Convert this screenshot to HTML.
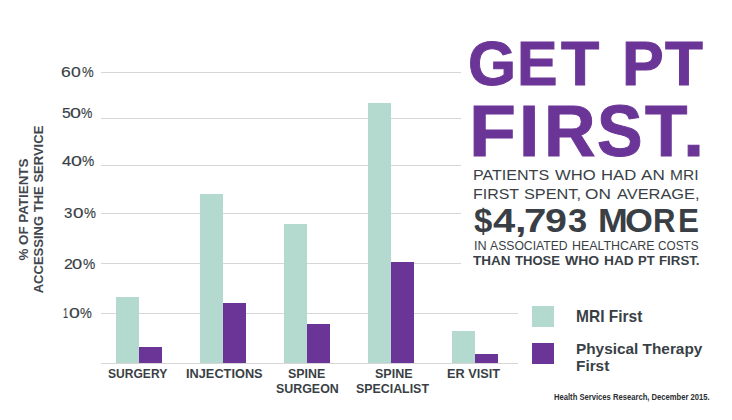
<!DOCTYPE html>
<html><head><meta charset="utf-8"><style>
html,body{margin:0;padding:0;background:#fff;width:732px;height:420px;overflow:hidden;position:relative}
.t{position:absolute;white-space:pre;line-height:1;font-family:"Liberation Sans",sans-serif;transform-origin:0 0}
.r{position:absolute}
</style></head><body>
<div class="r" style="left:101px;top:72px;width:360px;height:1px;background:#d6d6d6;"></div>
<div class="r" style="left:101px;top:118px;width:360px;height:1px;background:#d6d6d6;"></div>
<div class="r" style="left:101px;top:165px;width:360px;height:1px;background:#d6d6d6;"></div>
<div class="r" style="left:101px;top:213px;width:360px;height:1px;background:#d6d6d6;"></div>
<div class="r" style="left:101px;top:263px;width:360px;height:1px;background:#d6d6d6;"></div>
<div class="r" style="left:101px;top:313px;width:417px;height:1px;background:#d6d6d6;"></div>
<div class="r" style="left:101px;top:363px;width:417px;height:1px;background:#d6d6d6;"></div>
<div class="r" style="left:116px;top:297px;width:23px;height:66px;background:#b4dad0;"></div>
<div class="r" style="left:139px;top:347px;width:23px;height:16px;background:#6b3597;"></div>
<div class="r" style="left:200px;top:194px;width:23px;height:169px;background:#b4dad0;"></div>
<div class="r" style="left:223px;top:303px;width:23px;height:60px;background:#6b3597;"></div>
<div class="r" style="left:284px;top:224px;width:23px;height:139px;background:#b4dad0;"></div>
<div class="r" style="left:307px;top:324px;width:23px;height:39px;background:#6b3597;"></div>
<div class="r" style="left:368px;top:103px;width:23px;height:260px;background:#b4dad0;"></div>
<div class="r" style="left:391px;top:262px;width:23px;height:101px;background:#6b3597;"></div>
<div class="r" style="left:452px;top:331px;width:23px;height:32px;background:#b4dad0;"></div>
<div class="r" style="left:475px;top:354px;width:23px;height:9px;background:#6b3597;"></div>
<div class="t" style="left:61.00px;top:65px;font-size:14.28px;font-weight:400;color:#3a3f46;transform:scaleX(1.2255);-webkit-text-stroke:0.15px #3a3f46;">6</div>
<div class="t" style="left:71.17px;top:65px;font-size:14.28px;font-weight:400;color:#3a3f46;transform:scaleX(1.2328);-webkit-text-stroke:0.15px #3a3f46;">0</div>
<div class="t" style="left:81.65px;top:65px;font-size:14.28px;font-weight:400;color:#3a3f46;transform:scaleX(0.9207);-webkit-text-stroke:0.15px #3a3f46;">%</div>
<div class="t" style="left:61.55px;top:106px;font-size:14.28px;font-weight:400;color:#3a3f46;transform:scaleX(1.0951);-webkit-text-stroke:0.15px #3a3f46;">5</div>
<div class="t" style="left:70.39px;top:106px;font-size:14.28px;font-weight:400;color:#3a3f46;transform:scaleX(1.3787);-webkit-text-stroke:0.15px #3a3f46;">0</div>
<div class="t" style="left:81.36px;top:106px;font-size:14.28px;font-weight:400;color:#3a3f46;transform:scaleX(0.8948);-webkit-text-stroke:0.15px #3a3f46;">%</div>
<div class="t" style="left:61.54px;top:154px;font-size:14.57px;font-weight:400;color:#3a3f46;transform:scaleX(1.1372);-webkit-text-stroke:0.15px #3a3f46;">4</div>
<div class="t" style="left:70.99px;top:154px;font-size:14.57px;font-weight:400;color:#3a3f46;transform:scaleX(1.3512);-webkit-text-stroke:0.15px #3a3f46;">0</div>
<div class="t" style="left:81.52px;top:154px;font-size:14.57px;font-weight:400;color:#3a3f46;transform:scaleX(0.9448);-webkit-text-stroke:0.15px #3a3f46;">%</div>
<div class="t" style="left:64.38px;top:206px;font-size:14.13px;font-weight:400;color:#3a3f46;transform:scaleX(1.0616);-webkit-text-stroke:0.15px #3a3f46;">3</div>
<div class="t" style="left:73.12px;top:206px;font-size:14.13px;font-weight:400;color:#3a3f46;transform:scaleX(1.3343);-webkit-text-stroke:0.15px #3a3f46;">0</div>
<div class="t" style="left:83.54px;top:206px;font-size:14.13px;font-weight:400;color:#3a3f46;transform:scaleX(0.9480);-webkit-text-stroke:0.15px #3a3f46;">%</div>
<div class="t" style="left:63.88px;top:257px;font-size:14.13px;font-weight:400;color:#3a3f46;transform:scaleX(1.1308);-webkit-text-stroke:0.15px #3a3f46;">2</div>
<div class="t" style="left:72.45px;top:257px;font-size:14.13px;font-weight:400;color:#3a3f46;transform:scaleX(1.2901);-webkit-text-stroke:0.15px #3a3f46;">0</div>
<div class="t" style="left:83.22px;top:257px;font-size:14.13px;font-weight:400;color:#3a3f46;transform:scaleX(0.9742);-webkit-text-stroke:0.15px #3a3f46;">%</div>
<div class="t" style="left:63.24px;top:306px;font-size:14.28px;font-weight:400;color:#3a3f46;transform:scaleX(0.6433);-webkit-text-stroke:0.15px #3a3f46;">1</div>
<div class="t" style="left:69.00px;top:306px;font-size:14.28px;font-weight:400;color:#3a3f46;transform:scaleX(1.3641);-webkit-text-stroke:0.15px #3a3f46;">0</div>
<div class="t" style="left:79.84px;top:306px;font-size:14.28px;font-weight:400;color:#3a3f46;transform:scaleX(0.9294);-webkit-text-stroke:0.15px #3a3f46;">%</div>
<div class="t" style="left:0;top:0;font-size:12.03px;font-weight:700;color:#42474e;transform:translate(18.14px,260.60px) rotate(-90deg) scaleX(1.1128);">% OF PATIENTS</div>
<div class="t" style="left:0;top:0;font-size:12.46px;font-weight:700;color:#42474e;transform:translate(33.17px,293.29px) rotate(-90deg) scaleX(1.0455);">ACCESSING THE SERVICE</div>
<div class="t" style="left:107.64px;top:368px;font-size:12.75px;font-weight:700;color:#3a3f46;transform:scaleX(0.9457);">SURGERY</div>
<div class="t" style="left:185.61px;top:368px;font-size:12.75px;font-weight:700;color:#3a3f46;transform:scaleX(1.0014);">INJECTIONS</div>
<div class="t" style="left:288.33px;top:368px;font-size:12.75px;font-weight:700;color:#3a3f46;transform:scaleX(0.9744);">SPINE</div>
<div class="t" style="left:275.53px;top:383px;font-size:12.46px;font-weight:700;color:#3a3f46;transform:scaleX(0.9967);">SURGEON</div>
<div class="t" style="left:374.82px;top:368px;font-size:12.75px;font-weight:700;color:#3a3f46;transform:scaleX(0.9824);">SPINE</div>
<div class="t" style="left:356.23px;top:383px;font-size:12.46px;font-weight:700;color:#3a3f46;transform:scaleX(0.9946);">SPECIALIST</div>
<div class="t" style="left:447.01px;top:368px;font-size:12.75px;font-weight:700;color:#3a3f46;transform:scaleX(0.9972);">ER VISIT</div>
<div class="t" style="left:468.03px;top:32px;font-size:63.33px;font-weight:700;color:#6b3597;transform:scaleX(0.9753);-webkit-text-stroke:1px #6b3597;">G</div>
<div class="t" style="left:517.25px;top:32px;font-size:63.33px;font-weight:700;color:#6b3597;transform:scaleX(0.9587);-webkit-text-stroke:1px #6b3597;">E</div>
<div class="t" style="left:560.87px;top:32px;font-size:63.33px;font-weight:700;color:#6b3597;transform:scaleX(0.9902);-webkit-text-stroke:1px #6b3597;">T</div>
<div class="t" style="left:621.52px;top:32px;font-size:63.33px;font-weight:700;color:#6b3597;transform:scaleX(0.9869);-webkit-text-stroke:1px #6b3597;">P</div>
<div class="t" style="left:665.28px;top:32px;font-size:63.33px;font-weight:700;color:#6b3597;transform:scaleX(0.9795);-webkit-text-stroke:1px #6b3597;">T</div>
<div class="t" style="left:469.12px;top:95px;font-size:72.90px;font-weight:700;color:#6b3597;transform:scaleX(1.0535);-webkit-text-stroke:1px #6b3597;">F</div>
<div class="t" style="left:519.40px;top:95px;font-size:72.90px;font-weight:700;color:#6b3597;transform:scaleX(0.9994);-webkit-text-stroke:1px #6b3597;">I</div>
<div class="t" style="left:543.50px;top:95px;font-size:72.90px;font-weight:700;color:#6b3597;transform:scaleX(0.9798);-webkit-text-stroke:1px #6b3597;">R</div>
<div class="t" style="left:597.45px;top:95px;font-size:72.90px;font-weight:700;color:#6b3597;transform:scaleX(0.9374);-webkit-text-stroke:1px #6b3597;">S</div>
<div class="t" style="left:645.31px;top:95px;font-size:72.90px;font-weight:700;color:#6b3597;transform:scaleX(0.9532);-webkit-text-stroke:1px #6b3597;">T</div>
<div class="t" style="left:683.45px;top:95px;font-size:72.90px;font-weight:700;color:#6b3597;transform:scaleX(1.0484);-webkit-text-stroke:1px #6b3597;">.</div>
<div class="t" style="left:473.42px;top:167px;font-size:15.22px;font-weight:400;color:#3a3f46;transform:scaleX(1.0552);">PATIENTS</div>
<div class="t" style="left:555.03px;top:167px;font-size:15.22px;font-weight:400;color:#3a3f46;transform:scaleX(1.0932);">WHO</div>
<div class="t" style="left:600.57px;top:167px;font-size:15.22px;font-weight:400;color:#3a3f46;transform:scaleX(1.0951);">HAD</div>
<div class="t" style="left:641.10px;top:167px;font-size:15.22px;font-weight:400;color:#3a3f46;transform:scaleX(1.1235);">AN</div>
<div class="t" style="left:669.86px;top:167px;font-size:15.22px;font-weight:400;color:#3a3f46;transform:scaleX(1.0212);">MRI</div>
<div class="t" style="left:472.92px;top:186px;font-size:15.36px;font-weight:400;color:#3a3f46;transform:scaleX(1.0384);">FIRST</div>
<div class="t" style="left:524.09px;top:186px;font-size:15.36px;font-weight:400;color:#3a3f46;transform:scaleX(1.0599);">SPENT,</div>
<div class="t" style="left:585.34px;top:186px;font-size:15.36px;font-weight:400;color:#3a3f46;transform:scaleX(1.1215);">ON</div>
<div class="t" style="left:617.00px;top:186px;font-size:15.36px;font-weight:400;color:#3a3f46;transform:scaleX(1.0667);">AVERAGE,</div>
<div class="t" style="left:474.34px;top:205px;font-size:32.61px;font-weight:700;color:#3a3f46;transform:scaleX(1.0084);">$</div>
<div class="t" style="left:493.00px;top:205px;font-size:32.61px;font-weight:700;color:#3a3f46;transform:scaleX(1.2266);">4</div>
<div class="t" style="left:514.60px;top:205px;font-size:32.61px;font-weight:700;color:#3a3f46;transform:scaleX(1.2704);">,</div>
<div class="t" style="left:524.09px;top:205px;font-size:32.61px;font-weight:700;color:#3a3f46;transform:scaleX(1.2331);">7</div>
<div class="t" style="left:545.42px;top:205px;font-size:32.61px;font-weight:700;color:#3a3f46;transform:scaleX(1.2075);">9</div>
<div class="t" style="left:567.71px;top:205px;font-size:32.61px;font-weight:700;color:#3a3f46;transform:scaleX(1.0549);">3</div>
<div class="t" style="left:597.70px;top:205px;font-size:32.61px;font-weight:700;color:#3a3f46;transform:scaleX(1.0952);">M</div>
<div class="t" style="left:624.97px;top:205px;font-size:32.61px;font-weight:700;color:#3a3f46;transform:scaleX(1.0996);">O</div>
<div class="t" style="left:653.42px;top:205px;font-size:32.61px;font-weight:700;color:#3a3f46;transform:scaleX(0.9540);">R</div>
<div class="t" style="left:677.60px;top:205px;font-size:32.61px;font-weight:700;color:#3a3f46;transform:scaleX(0.9638);">E</div>
<div class="t" style="left:473.76px;top:240px;font-size:12.61px;font-weight:400;color:#3a3f46;transform:scaleX(1.0032);">IN</div>
<div class="t" style="left:490.30px;top:240px;font-size:12.61px;font-weight:400;color:#3a3f46;transform:scaleX(0.9662);">ASSOCIATED</div>
<div class="t" style="left:571.81px;top:240px;font-size:12.61px;font-weight:400;color:#3a3f46;transform:scaleX(0.9849);">HEALTHCARE</div>
<div class="t" style="left:658.31px;top:240px;font-size:12.61px;font-weight:400;color:#3a3f46;transform:scaleX(0.9327);">COSTS</div>
<div class="t" style="left:473.26px;top:255px;font-size:12.17px;font-weight:700;color:#3a3f46;transform:scaleX(1.1139);">THAN</div>
<div class="t" style="left:515.17px;top:255px;font-size:12.17px;font-weight:700;color:#3a3f46;transform:scaleX(1.0755);">THOSE</div>
<div class="t" style="left:565.20px;top:255px;font-size:12.17px;font-weight:700;color:#3a3f46;transform:scaleX(1.1504);">WHO</div>
<div class="t" style="left:604.04px;top:255px;font-size:12.17px;font-weight:700;color:#3a3f46;transform:scaleX(1.1303);">HAD</div>
<div class="t" style="left:637.59px;top:255px;font-size:12.17px;font-weight:700;color:#3a3f46;transform:scaleX(1.0682);">PT</div>
<div class="t" style="left:659.07px;top:255px;font-size:12.17px;font-weight:700;color:#3a3f46;transform:scaleX(1.0918);">FIRST.</div>
<div class="r" style="left:532px;top:306px;width:22px;height:21px;background:#b4dad0;"></div>
<div class="r" style="left:532px;top:343px;width:22px;height:21px;background:#6b3597;"></div>
<div class="t" style="left:575.71px;top:309px;font-size:15.65px;font-weight:700;color:#3a3f46;transform:scaleX(0.9919);">MRI First</div>
<div class="t" style="left:576.02px;top:342px;font-size:14.35px;font-weight:700;color:#3a3f46;transform:scaleX(1.0705);">Physical Therapy</div>
<div class="t" style="left:576.02px;top:359px;font-size:14.35px;font-weight:700;color:#3a3f46;transform:scaleX(1.0703);">First</div>
<div class="t" style="left:553.77px;top:393px;font-size:8.41px;font-weight:700;color:#2a2d31;transform:scaleX(0.9079);">Health Services Research, December 2015.</div>
</body></html>
